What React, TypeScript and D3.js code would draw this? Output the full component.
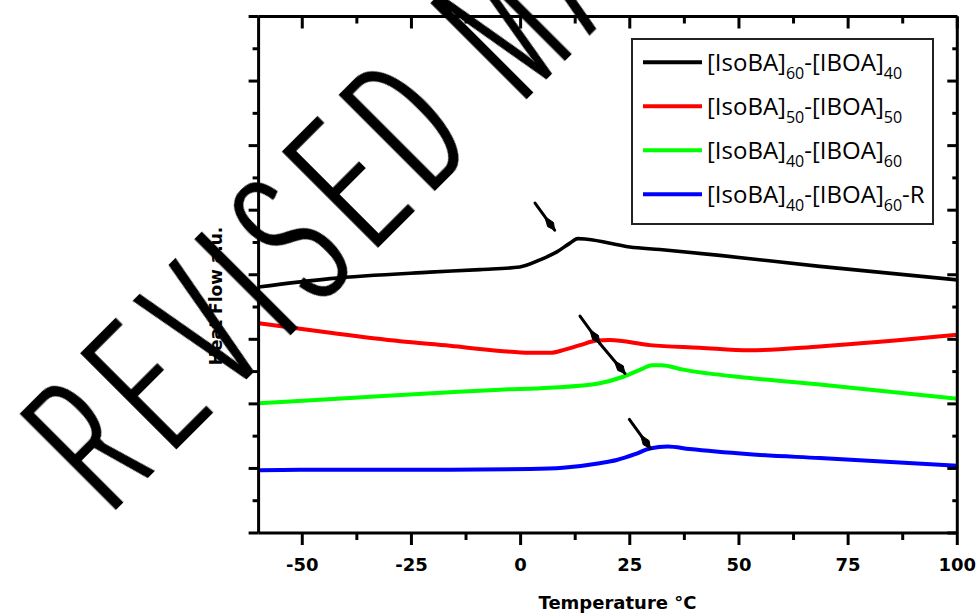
import React from "react";
import * as d3 from "d3";

// ---------- data ----------
const seriesNames = [
  [["[IsoBA]", false], ["60", true], ["-[IBOA]", false], ["40", true]],
  [["[IsoBA]", false], ["50", true], ["-[IBOA]", false], ["50", true]],
  [["[IsoBA]", false], ["40", true], ["-[IBOA]", false], ["60", true]],
  [["[IsoBA]", false], ["40", true], ["-[IBOA]", false], ["60", true], ["-R", false]],
] as [string, boolean][][];

const seriesColors = ["#000000", "#ff0000", "#00ff00", "#0000ff"];

// [temperature °C, heat flow a.u.]
const black: [number, number][] = [
  [-60, 3.81], [-43.6, 3.94], [-20.8, 4.04], [-9.3, 4.08], [-0.2, 4.12], [4.4, 4.23],
  [8.2, 4.35], [11.3, 4.49], [13.1, 4.56], [15.2, 4.55], [25.0, 4.43], [31.9, 4.39],
  [45.6, 4.3], [68.5, 4.13], [100, 3.92],
];
const red: [number, number][] = [
  [-60, 3.25], [-43.6, 3.1], [-27.6, 2.97], [-16.2, 2.9], [-4.7, 2.82], [2.1, 2.79],
  [6.7, 2.79], [10.1, 2.84], [13.6, 2.91], [17.5, 2.98], [20.4, 2.99], [29.6, 2.91],
  [41.0, 2.87], [52.5, 2.83], [68.5, 2.89], [100, 3.07],
];
const green: [number, number][] = [
  [-60, 2.01], [-39.1, 2.09], [-16.2, 2.18], [-4.7, 2.22], [6.7, 2.25], [18.1, 2.32],
  [23.5, 2.42], [28.1, 2.55], [30.0, 2.6], [32.3, 2.6], [37.2, 2.53], [52.5, 2.4],
  [68.5, 2.3], [100, 2.08],
];
const blue: [number, number][] = [
  [-60, 0.97], [-50.5, 0.98], [-16.2, 0.98], [2.1, 0.99], [9.7, 1.01], [18.1, 1.08],
  [22.0, 1.13], [26.2, 1.22], [29.6, 1.31], [33.7, 1.34], [38.7, 1.3], [52.5, 1.22],
  [68.5, 1.16], [100, 1.04],
];
const allSeries = [black, red, green, blue];

// arrows: [T start, v start, T tip, v tip]
const arrows: [number, number, number, number][] = [
  [3.3, 5.11, 7.8, 4.69],
  [13.6, 3.36, 18.1, 2.94],
  [18.1, 2.94, 23.9, 2.47],
  [24.9, 1.76, 29.7, 1.31],
];

const xMajorTicks = [-50, -25, 0, 25, 50, 75, 100];
const xMinorTicks = [-37.5, -12.5, 12.5, 37.5, 62.5, 87.5];
const yMajorTicks = [0, 1, 2, 3, 4, 5, 6, 7, 8];
const yMinorTicks = [0.5, 1.5, 2.5, 3.5, 4.5, 5.5, 6.5, 7.5];

const xTitle = "Temperature \u00B0C";
const yTitle = "Heat Flow a.u.";
const watermark = "REVISED MANUSCRIPT";

// ---------- layout ----------
const W = 977;
const H = 614;
const L = 258.6, R = 957.3, T = 16.5, B = 533;

export default function App() {
  const x = d3.scaleLinear().domain([-60, 100]).range([L, R]);
  const y = d3.scaleLinear().domain([0, 8]).range([B, T]);
  const line = d3
    .line<[number, number]>()
    .x((d) => x(d[0]))
    .y((d) => y(d[1]))
    .curve(d3.curveMonotoneX);

  const axisFont = "'DejaVu Sans', sans-serif";

  const arrowPaths = arrows.map(([t0, v0, t1, v1]) => {
    const x0 = x(t0), y0 = y(v0), x1 = x(t1), y1 = y(v1);
    const dx = x1 - x0, dy = y1 - y0;
    const len = Math.hypot(dx, dy);
    const ux = dx / len, uy = dy / len;
    const px = -uy, py = ux;
    const hw = 3.6;
    const p = (a: number, b: number) => `${x1 - ux * a + px * b},${y1 - uy * a + py * b}`;
    const head = `M${x1},${y1} L${p(7, hw)} L${p(17, 0)} L${p(7, -hw)} Z`;
    return { x0, y0, x1, y1, head };
  });

  const wmScale = 0.45;

  return (
    <svg
      width={W}
      height={H}
      viewBox={`0 0 ${W} ${H}`}
      style={{ position: "absolute", left: 0, top: 0, display: "block", background: "#fff" }}
    >
      <defs>
        <filter id="wmThin" x="-5%" y="-10%" width="110%" height="120%">
          <feMorphology in="SourceGraphic" operator="erode" radius="0.5 3" result="thin" />
          <feMorphology in="thin" operator="dilate" radius="3 0.5" />
        </filter>
      </defs>
      <rect x={0} y={0} width={W} height={H} fill="#fff" />

      {/* curves */}
      {allSeries.map((s, i) => (
        <path
          key={i}
          d={line(s) || ""}
          fill="none"
          stroke={seriesColors[i]}
          strokeWidth={i === 0 ? 3.6 : 4}
          strokeLinejoin="round"
        />
      ))}

      {/* arrows */}
      {arrowPaths.map((a, i) => (
        <g key={i}>
          <line x1={a.x0} y1={a.y0} x2={a.x1} y2={a.y1} stroke="#000" strokeWidth={3} strokeLinecap="round" />
          <path d={a.head} fill="#000" stroke="#000" strokeWidth={1} strokeLinejoin="round" />
        </g>
      ))}

      {/* frame */}
      <g stroke="#000" strokeWidth={3} fill="none">
        <line x1={L} y1={T} x2={R} y2={T} />
        <line x1={L} y1={B} x2={R} y2={B} />
        <line x1={L} y1={T} x2={L} y2={B} />
        <line x1={R} y1={T} x2={R} y2={B} />
        {xMajorTicks.map((t) => (
          <line key={"bM" + t} x1={x(t)} x2={x(t)} y1={B} y2={B + 12} />
        ))}
        {xMinorTicks.map((t) => (
          <line key={"bm" + t} x1={x(t)} x2={x(t)} y1={B} y2={B + 7} />
        ))}
        {xMajorTicks.map((t) => (
          <line key={"tM" + t} x1={x(t)} x2={x(t)} y1={T} y2={T + 12} />
        ))}
        {xMinorTicks.map((t) => (
          <line key={"tm" + t} x1={x(t)} x2={x(t)} y1={T} y2={T + 7} />
        ))}
        {yMajorTicks.map((v) => (
          <line key={"lM" + v} x1={L - 10} x2={L} y1={y(v)} y2={y(v)} />
        ))}
        {yMinorTicks.map((v) => (
          <line key={"lm" + v} x1={L - 6} x2={L} y1={y(v)} y2={y(v)} />
        ))}
        {yMajorTicks.map((v) => (
          <line key={"rM" + v} x1={R - 10} x2={R} y1={y(v)} y2={y(v)} />
        ))}
        {yMinorTicks.map((v) => (
          <line key={"rm" + v} x1={R - 5} x2={R} y1={y(v)} y2={y(v)} />
        ))}
      </g>

      {/* tick labels */}
      {xMajorTicks.map((t) => (
        <text
          key={"lab" + t}
          x={x(t)}
          y={570.5}
          textAnchor="middle"
          fontFamily={axisFont}
          fontWeight="bold"
          fontSize={18}
          fill="#000"
        >
          {t < 0 ? "-" + Math.abs(t) : String(t)}
        </text>
      ))}

      {/* axis titles */}
      <text
        x={617.5}
        y={609}
        textAnchor="middle"
        fontFamily={axisFont}
        fontWeight="bold"
        fontSize={18}
        fill="#000"
      >
        {xTitle}
      </text>
      <text
        transform="translate(222,296) rotate(-90)"
        textAnchor="middle"
        fontFamily={axisFont}
        fontWeight="bold"
        fontSize={17}
        fill="#000"
      >
        {yTitle}
      </text>

      {/* legend */}
      <rect x={632} y={39} width={301} height={185} fill="#fff" stroke="#222" strokeWidth={2} />
      {seriesNames.map((segs, i) => {
        const ly = 62.3 + i * 44;
        return (
          <g key={"leg" + i}>
            <line x1={643} x2={702} y1={ly} y2={ly} stroke={seriesColors[i]} strokeWidth={4} />
            <text x={707} y={ly + 8.5} fontFamily="'Open Sans', sans-serif" fontSize={24} fill="#000">
              {segs.map(([s, sub], j) => {
                const prevSub = j > 0 && segs[j - 1][1];
                let dy = 0;
                if (sub && !prevSub) dy = 8.5;
                if (!sub && prevSub) dy = -8.5;
                return (
                  <tspan key={j} dy={dy} fontSize={sub ? 16 : 24}>
                    {s}
                  </tspan>
                );
              })}
            </text>
          </g>
        );
      })}

      {/* watermark */}
      <text
        transform={`translate(113.3,516.7) rotate(-45) scale(${wmScale},1)`}
        fontFamily="'Liberation Sans', Arial, sans-serif"
        fontSize={206}
        letterSpacing={18.5 / wmScale}
        fill="#000"
        filter="url(#wmThin)"
      >
        {watermark}
      </text>
    </svg>
  );
}
